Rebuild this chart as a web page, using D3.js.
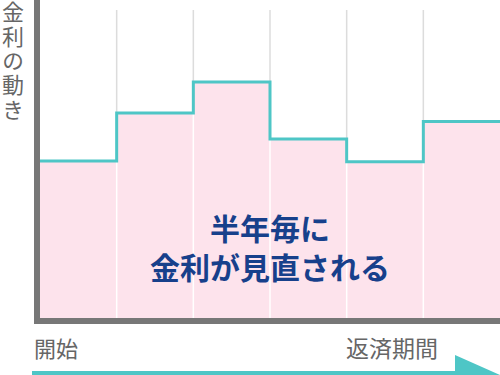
<!DOCTYPE html>
<html>
<head>
<meta charset="utf-8">
<script src="https://cdn.jsdelivr.net/npm/d3@7"></script>
<style>
    body { margin: 0; background: #fff; }
    svg { display: block; font-family: "Noto Sans CJK JP", "Noto Sans", sans-serif; }
</style>
</head>
<body>
<svg id="chart" width="500" height="375"></svg>
<script>
// six half-year periods, interest rate level (relative units)
const periods = [0, 1, 2, 3, 4, 5];
const rates = [49.4, 64.5, 74.2, 56.3, 49.1, 61.8];
const yLabel = '金利の動き';
const xStartLabel = '開始';
const xEndLabel = '返済期間';
const centerText = ['半年毎に', '金利が見直される'];

const svg = d3.select('#chart');

let x = d3.scaleLinear().domain([0, periods.length]).range([40, 500]);
let y = d3.scaleLinear().domain([0, 100]).range([318, 0]);

// Light grid lines (upper part, gray)
svg.append('g')
    .selectAll('line')
    .data(periods.slice(1))
    .join('line')
    .attr('x1', d => x(d))
    .attr('x2', d => x(d))
    .attr('y1', 10)
    .attr('y2', 318)
    .style('stroke', '#dcdcdc')
    .style('stroke-width', 1.5);

// Pink fill under each step
svg.append('g')
    .selectAll('rect')
    .data(periods)
    .join('rect')
    .attr('x', d => x(d))
    .attr('y', (d, i) => y(rates[i]))
    .attr('width', d => x(d + 1) - x(d))
    .attr('height', (d, i) => y(0) - y(rates[i]))
    .style('fill', '#fde3ec');

// White grid lines inside the pink area
svg.append('g')
    .selectAll('line')
    .data(periods.slice(1))
    .join('line')
    .attr('x1', d => x(d))
    .attr('x2', d => x(d))
    .attr('y1', d => Math.max(y(rates[d - 1]), y(rates[d])))
    .attr('y2', 318)
    .style('stroke', '#ffffff')
    .style('stroke-width', 1.5);

// Rate step line
let stepData = periods.map((p, i) => [p, rates[i]]);
stepData.push([periods.length, rates[rates.length - 1]]);

let line = d3.line()
    .x(d => x(d[0]))
    .y(d => y(d[1]))
    .curve(d3.curveStepAfter);

svg.append('path')
    .datum(stepData)
    .attr('d', line)
    .style('fill', 'none')
    .style('stroke', '#4ec6c6')
    .style('stroke-width', 3);

// Axes (thick gray L)
svg.append('rect')
    .attr('x', 34).attr('y', 0)
    .attr('width', 6).attr('height', 324)
    .style('fill', '#777');
svg.append('rect')
    .attr('x', 34).attr('y', 318)
    .attr('width', 466).attr('height', 6)
    .style('fill', '#777');

// Vertical y label
svg.append('text')
    .attr('x', 13)
    .attr('y', 1)
    .style('writing-mode', 'vertical-rl')
    .style('text-orientation', 'upright')
    .style('letter-spacing', '2.3px')
    .attr('font-size', 22)
    .attr('fill', '#666')
    .text(yLabel);

// Center message
svg.append('g')
    .selectAll('text')
    .data(centerText)
    .join('text')
    .attr('x', x(3))
    .attr('y', (d, i) => 240 + i * 39)
    .style('text-anchor', 'middle')
    .attr('font-size', 30)
    .attr('font-weight', 'bold')
    .attr('fill', '#17408b')
    .text(d => d);

// Bottom labels
svg.append('text')
    .attr('x', 34)
    .attr('y', 357)
    .attr('font-size', 22)
    .attr('fill', '#666')
    .text(xStartLabel);
svg.append('text')
    .attr('x', 438)
    .attr('y', 357)
    .style('text-anchor', 'end')
    .attr('font-size', 23)
    .attr('fill', '#666')
    .text(xEndLabel);

// Time arrow
svg.append('rect')
    .attr('x', 32).attr('y', 371)
    .attr('width', 440).attr('height', 6)
    .style('fill', '#4ec6c6');
svg.append('path')
    .attr('d', 'M455,355 L500,375 L455,377 Z')
    .style('fill', '#4ec6c6');
</script>
</body>
</html>
